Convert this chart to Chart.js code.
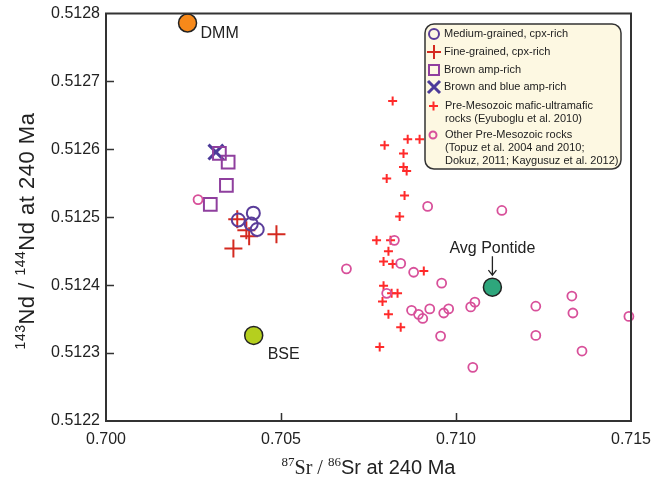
<!DOCTYPE html>
<html>
<head>
<meta charset="utf-8">
<script src="https://cdn.jsdelivr.net/npm/chart.js@4.4.0/dist/chart.umd.min.js"></script>
<style>
  html, body { margin: 0; padding: 0; background: #fff; }
  #wrap { width: 652px; height: 479px; }
</style>
</head>
<body>
<div id="wrap"><canvas id="srnd" width="652" height="479"></canvas></div>
<script>
// axis ticks
const xTickLabels = ['0.700', '0.705', '0.710', '0.715'];
const yTickLabels = ['0.5122', '0.5123', '0.5124', '0.5125', '0.5126', '0.5127', '0.5128'];

// this study
const mediumX = [0.70378, 0.70421, 0.70415, 0.70432];
const mediumY = [0.512496, 0.512506, 0.512490, 0.512482];
const fineX = [0.70375, 0.70401, 0.70409, 0.70487, 0.70364];
const fineY = [0.512497, 0.512481, 0.512472, 0.512475, 0.512454];
const brownX = [0.70324, 0.70349, 0.70344, 0.70298];
const brownY = [0.512594, 0.512581, 0.512547, 0.512519];
const blueX = [0.70314];
const blueY = [0.512596];

// literature data
const maficX = [0.70819, 0.70862, 0.70896, 0.70796, 0.70850, 0.70850, 0.70859, 0.70802, 0.70853, 0.70839,
                0.70773, 0.70813, 0.70807, 0.70793, 0.70819, 0.70908, 0.70793, 0.70816, 0.70833, 0.70790,
                0.70807, 0.70842, 0.70782];
const maficY = [0.512671, 0.512615, 0.512615, 0.512606, 0.512594, 0.512574, 0.512568, 0.512557, 0.512532, 0.512501,
                0.512466, 0.512466, 0.512450, 0.512435, 0.512431, 0.512421, 0.512399, 0.512388, 0.512388, 0.512376,
                0.512357, 0.512338, 0.512309];
const otherX = [0.70263, 0.70687, 0.70919, 0.70824, 0.70842, 0.70879, 0.70959, 0.70802, 0.70925, 0.70965,
                0.70979, 0.70873, 0.70893, 0.70905, 0.70956, 0.71131, 0.71042, 0.71054, 0.71228, 0.71331,
                0.71334, 0.71494, 0.71228, 0.71360, 0.71048];
const otherY = [0.512526, 0.512424, 0.512516, 0.512466, 0.512432, 0.512419, 0.512403, 0.512388, 0.512365, 0.512359,
                0.512365, 0.512363, 0.512357, 0.512351, 0.512325, 0.512510, 0.512368, 0.512375, 0.512369, 0.512384,
                0.512359, 0.512354, 0.512326, 0.512303, 0.512279];

// reservoirs
const endNames = ['DMM', 'BSE', 'Avg Pontide'];
const endX = [0.70233, 0.70422, 0.71104];
const endY = [0.512786, 0.512326, 0.512397];
const endColors = ['#f7891a', '#b5cf1e', '#2ea67c'];

const pts = (xs, ys) => xs.map((x, i) => ({ x: x, y: ys[i] }));

const SANS = '"Liberation Sans", Arial, sans-serif';
const SERIF = '"Liberation Serif", "Times New Roman", serif';
const INK = '#222';

// mixed-size text, centred on cx
function drawRich(ctx, parts, cx, base) {
  let total = 0;
  parts.forEach(p => { ctx.font = p.font; total += ctx.measureText(p.t).width; });
  let x = cx - total / 2;
  parts.forEach(p => {
    ctx.font = p.font;
    ctx.fillText(p.t, x, base + (p.dy || 0));
    x += ctx.measureText(p.t).width;
  });
}

const decor = {
  id: 'decor',
  afterDraw(chart) {
    const ctx = chart.ctx;
    const a = chart.chartArea;
    const xs = chart.scales.x, ys = chart.scales.y;
    ctx.save();

    // frame + inward ticks
    ctx.strokeStyle = '#333';
    ctx.lineWidth = 2;
    ctx.strokeRect(a.left, a.top, a.right - a.left, a.bottom - a.top);
    ctx.lineWidth = 1.5;
    ctx.beginPath();
    ys.ticks.forEach((t, i) => {
      if (i === 0 || i === ys.ticks.length - 1) return;
      const py = Math.round(ys.getPixelForValue(t.value)) + 0.5;
      ctx.moveTo(a.left, py); ctx.lineTo(a.left + 8, py);
    });
    xs.ticks.forEach((t, i) => {
      if (i === 0 || i === xs.ticks.length - 1) return;
      const px = Math.round(xs.getPixelForValue(t.value)) + 0.5;
      ctx.moveTo(px, a.bottom); ctx.lineTo(px, a.bottom - 8);
    });
    ctx.stroke();

    // axis titles
    ctx.fillStyle = INK;
    ctx.textBaseline = 'alphabetic';
    ctx.textAlign = 'left';
    drawRich(ctx, [
      { t: '87', font: '13px ' + SERIF, dy: -8 },
      { t: 'Sr / ', font: '20px ' + SERIF },
      { t: '86', font: '13px ' + SERIF, dy: -8 },
      { t: 'Sr at 240 Ma', font: '20px ' + SANS }
    ], (a.left + a.right) / 2, 474);

    ctx.save();
    ctx.translate(34, 231);
    ctx.rotate(-Math.PI / 2);
    if ('letterSpacing' in ctx) ctx.letterSpacing = '0.5px';
    drawRich(ctx, [
      { t: '143', font: '14px ' + SANS, dy: -9 },
      { t: 'Nd / ', font: '22px ' + SANS },
      { t: '144', font: '14px ' + SANS, dy: -9 },
      { t: 'Nd at 240 Ma', font: '22px ' + SANS }
    ], 0, 0);
    ctx.restore();

    // reservoir labels
    const ep = endNames.map((n, i) => ({ x: xs.getPixelForValue(endX[i]), y: ys.getPixelForValue(endY[i]) }));
    ctx.font = '16px ' + SANS;
    ctx.fillText(endNames[0], ep[0].x + 13, ep[0].y + 15);
    ctx.fillText(endNames[1], ep[1].x + 14, ep[1].y + 24);
    ctx.textAlign = 'center';
    ctx.fillText(endNames[2], ep[2].x, ep[2].y - 34);
    // arrow to Avg Pontide
    ctx.strokeStyle = INK;
    ctx.lineWidth = 1.3;
    ctx.beginPath();
    ctx.moveTo(ep[2].x, ep[2].y - 31); ctx.lineTo(ep[2].x, ep[2].y - 12);
    ctx.moveTo(ep[2].x - 4, ep[2].y - 17); ctx.lineTo(ep[2].x, ep[2].y - 12); ctx.lineTo(ep[2].x + 4, ep[2].y - 17);
    ctx.stroke();

    // legend box
    ctx.beginPath();
    ctx.roundRect(425, 24, 196, 145, 9);
    ctx.fillStyle = '#fdf8e2';
    ctx.fill();
    ctx.strokeStyle = '#333';
    ctx.lineWidth = 1.5;
    ctx.stroke();

    const mx = 434;
    ctx.lineWidth = 2;
    ctx.strokeStyle = '#5a3d9a';
    ctx.beginPath(); ctx.arc(mx, 34, 5, 0, Math.PI * 2); ctx.stroke();
    ctx.strokeStyle = '#d42a20';
    ctx.beginPath(); ctx.moveTo(mx - 7, 52); ctx.lineTo(mx + 7, 52); ctx.moveTo(mx, 45); ctx.lineTo(mx, 59); ctx.stroke();
    ctx.strokeStyle = '#8f3f9e';
    ctx.strokeRect(mx - 5, 65, 10, 10);
    ctx.strokeStyle = '#4c3b99';
    ctx.lineWidth = 3;
    ctx.beginPath(); ctx.moveTo(mx - 6, 81); ctx.lineTo(mx + 6, 93); ctx.moveTo(mx + 6, 81); ctx.lineTo(mx - 6, 93); ctx.stroke();
    ctx.lineWidth = 2;
    ctx.strokeStyle = '#ff2a2a';
    ctx.beginPath(); ctx.moveTo(mx - 5, 106); ctx.lineTo(mx + 4, 106); ctx.moveTo(mx - 0.5, 101.5); ctx.lineTo(mx - 0.5, 110.5); ctx.stroke();
    ctx.strokeStyle = '#d8509a';
    ctx.beginPath(); ctx.arc(mx - 1, 135, 3.5, 0, Math.PI * 2); ctx.stroke();

    ctx.fillStyle = INK;
    ctx.textAlign = 'left';
    ctx.textBaseline = 'middle';
    ctx.font = '11px ' + SANS;
    ctx.fillText('Medium-grained, cpx-rich', 444, 34);
    ctx.fillText('Fine-grained, cpx-rich', 444, 52);
    ctx.fillText('Brown amp-rich', 444, 70);
    ctx.fillText('Brown and blue amp-rich', 444, 87);
    ctx.fillText('Pre-Mesozoic mafic-ultramafic', 445, 106);
    ctx.fillText('rocks (Eyuboglu et al. 2010)', 445, 119);
    ctx.fillText('Other Pre-Mesozoic rocks', 445, 135);
    ctx.fillText('(Topuz et al. 2004 and 2010;', 445, 148);
    ctx.fillText('Dokuz, 2011; Kaygusuz et al. 2012)', 445, 161);
    ctx.restore();
  }
};

new Chart(document.getElementById('srnd'), {
  type: 'scatter',
  data: {
    datasets: [
      { label: 'Other Pre-Mesozoic rocks', data: pts(otherX, otherY), pointStyle: 'circle', pointRadius: 4.5,
        borderColor: '#d8509a', backgroundColor: 'rgba(0,0,0,0)', borderWidth: 1.8, clip: false },
      { label: 'Pre-Mesozoic mafic-ultramafic rocks', data: pts(maficX, maficY), pointStyle: 'cross', pointRadius: 4.5,
        borderColor: '#ff2a2a', backgroundColor: '#ff2a2a', borderWidth: 2, clip: false },
      { label: 'Brown amp-rich', data: pts(brownX, brownY), pointStyle: 'rect', pointRadius: 9,
        borderColor: '#8f3f9e', backgroundColor: 'rgba(0,0,0,0)', borderWidth: 2, clip: false },
      { label: 'Brown and blue amp-rich', data: pts(blueX, blueY), pointStyle: 'crossRot', pointRadius: 10.5,
        borderColor: '#4c3b99', backgroundColor: '#4c3b99', borderWidth: 3, clip: false },
      { label: 'Medium-grained, cpx-rich', data: pts(mediumX, mediumY), pointStyle: 'circle', pointRadius: 6.5,
        borderColor: '#5a3d9a', backgroundColor: 'rgba(0,0,0,0)', borderWidth: 2, clip: false },
      { label: 'Fine-grained, cpx-rich', data: pts(fineX, fineY), pointStyle: 'cross', pointRadius: 9,
        borderColor: '#d42a20', backgroundColor: '#d42a20', borderWidth: 2, clip: false },
      { label: 'Reservoirs', data: pts(endX, endY), pointStyle: 'circle', pointRadius: 9,
        borderColor: '#222', backgroundColor: endColors, borderWidth: 1.5, clip: false }
    ]
  },
  options: {
    responsive: false,
    devicePixelRatio: 1,
    animation: false,
    layout: { padding: { top: 13, right: 21, left: 0, bottom: 0 } },
    plugins: { legend: { display: false }, tooltip: { enabled: false } },
    scales: {
      x: {
        type: 'linear', min: 0.700, max: 0.715,
        grid: { display: false, drawTicks: false },
        border: { display: false },
        ticks: { stepSize: 0.005, padding: 9, color: INK, font: { family: SANS, size: 16 },
                 callback: (v, i) => xTickLabels[i] },
        afterFit: s => { s.height = 58; s.paddingLeft = 0; s.paddingRight = 0; }
      },
      y: {
        type: 'linear', min: 0.5122, max: 0.5128,
        grid: { display: false, drawTicks: false },
        border: { display: false },
        ticks: { stepSize: 0.0001, padding: 6, color: INK, font: { family: SANS, size: 16 },
                 callback: (v, i) => yTickLabels[i] },
        afterFit: s => { s.width = 106; s.paddingTop = 0; s.paddingBottom = 0; }
      }
    }
  },
  plugins: [decor]
});
</script>
</body>
</html>
